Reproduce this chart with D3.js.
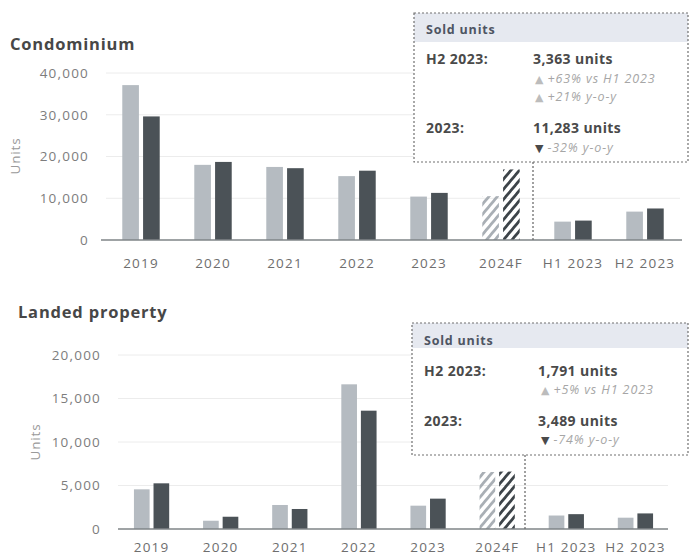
<!DOCTYPE html>
<html>
<head>
<meta charset="utf-8">
<script src="https://cdn.jsdelivr.net/npm/d3@7"></script>
<style>
  body { margin: 0; background: #fff; }
  svg { display: block; font-family: "Open Sans", "DejaVu Sans", sans-serif; }
</style>
</head>
<body>
<svg id="chart" width="690" height="556"></svg>
<script>
// ---- data ----
const categories = ["2019", "2020", "2021", "2022", "2023", "2024F", "H1 2023", "H2 2023"];
const forecastCategory = "2024F";

const condoLight = [37100, 18000, 17500, 15300, 10400, 10500, 4400, 6800];
const condoSold  = [29600, 18700, 17200, 16600, 11283, 16900, 4650, 7550];
const condoTicks = [0, 10000, 20000, 30000, 40000];

const landedLight = [4560, 950, 2760, 16630, 2680, 6550, 1550, 1300];
const landedSold  = [5250, 1410, 2300, 13600, 3489, 6600, 1706, 1791];
const landedTicks = [0, 5000, 10000, 15000, 20000];

const condoNotes = [
  { label: "H2 2023:", value: "3,363 units",
    notes: [{ sym: "▲", text: "+63% vs H1 2023" }, { sym: "▲", text: "+21% y-o-y" }] },
  { label: "2023:", value: "11,283 units",
    notes: [{ sym: "▼", text: "-32% y-o-y" }] }
];
const landedNotes = [
  { label: "H2 2023:", value: "1,791 units",
    notes: [{ sym: "▲", text: "+5% vs H1 2023" }] },
  { label: "2023:", value: "3,489 units",
    notes: [{ sym: "▼", text: "-74% y-o-y" }] }
];

// ---- styling ----
const LIGHT = "#b5bbc1";
const DARK = "#4b5257";
const svg = d3.select("#chart");

// diagonal hatching for the forecast bars
const defs = svg.append("defs");
function hatch(id, color) {
  const p = defs.append("pattern")
    .attr("id", id)
    .attr("patternUnits", "userSpaceOnUse")
    .attr("width", 6.5).attr("height", 6.5)
    .attr("patternTransform", "rotate(40)");
  p.append("rect").attr("x", 0).attr("y", 0).attr("width", 2.8).attr("height", 6.5).attr("fill", color);
}
hatch("hatchLight", "#a9afb5");
hatch("hatchDark", "#3d4449");

function drawPanel(cfg) {
  const g = svg.append("g");

  const y = d3.scaleLinear().domain([0, cfg.ticks[cfg.ticks.length - 1]]).range(cfg.yRange);
  const x0 = d3.scaleBand().domain(categories).range(cfg.xRange)
    .paddingInner(cfg.groupPad).paddingOuter(cfg.groupPad / 2);
  const x1 = d3.scaleBand().domain(["light", "sold"]).range([0, x0.bandwidth()]).paddingInner(0.2);

  // title
  g.append("text").attr("x", cfg.titleX).attr("y", cfg.titleY)
    .attr("font-size", 16.5).attr("font-weight", 700).attr("letter-spacing", 0.8)
    .attr("fill", "#474747")
    .text(cfg.title);

  // gridlines
  g.append("g").selectAll("line").data(cfg.ticks.filter(d => d > 0)).join("line")
    .attr("x1", cfg.gridX[0]).attr("x2", cfg.gridX[1])
    .attr("y1", d => y(d)).attr("y2", d => y(d))
    .attr("stroke", "#ececec").attr("stroke-width", 1);

  // y axis labels
  const yAxis = g.append("g").attr("transform", `translate(${cfg.tickX},0)`)
    .call(d3.axisLeft(y).tickValues(cfg.ticks).tickSize(0).tickPadding(0).tickFormat(d3.format(",")));
  yAxis.select(".domain").remove();
  yAxis.selectAll("text").attr("font-size", 13.5).attr("letter-spacing", 1.2).attr("fill", "#7d7d7d")
    .attr("font-family", "\"Open Sans\", sans-serif");

  // axis title
  g.append("text")
    .attr("transform", `translate(${cfg.unitsX},${cfg.unitsY}) rotate(-90)`)
    .attr("text-anchor", "middle").attr("dy", "0.35em")
    .attr("font-size", 13.5).attr("letter-spacing", 0.8).attr("fill", "#9a9a9a").text("Units");

  // bars
  const rows = categories.map((c, i) => ({ c, light: cfg.light[i], sold: cfg.sold[i] }));
  const groups = g.append("g").selectAll("g").data(rows).join("g")
    .attr("transform", d => `translate(${x0(d.c)},0)`);
  groups.selectAll("rect")
    .data(d => [{ k: "light", v: d.light, c: d.c }, { k: "sold", v: d.sold, c: d.c }])
    .join("rect")
    .attr("x", d => x1(d.k))
    .attr("width", x1.bandwidth())
    .attr("y", d => y(d.v))
    .attr("height", d => y(0) - y(d.v))
    .attr("fill", d => d.c === forecastCategory
      ? (d.k === "light" ? "url(#hatchLight)" : "url(#hatchDark)")
      : (d.k === "light" ? LIGHT : DARK));

  // baseline
  g.append("line").attr("x1", cfg.baseX[0]).attr("x2", cfg.baseX[1])
    .attr("y1", y(0)).attr("y2", y(0))
    .attr("stroke", "#7f8487").attr("stroke-width", 1.5);

  // x axis labels
  const xAxis = g.append("g").attr("transform", `translate(0,${cfg.labelY})`)
    .call(d3.axisBottom(x0).tickSize(0).tickPadding(0));
  xAxis.select(".domain").remove();
  xAxis.selectAll("text").attr("font-size", 13.5).attr("letter-spacing", 1.2).attr("fill", "#6e6e6e")
    .attr("font-family", "\"Open Sans\", sans-serif");

  // dotted connector from the callout down to the axis
  g.append("line").attr("x1", cfg.dividerX).attr("x2", cfg.dividerX)
    .attr("y1", cfg.box.y + cfg.box.h).attr("y2", y(0))
    .attr("stroke", "#6e6e6e").attr("stroke-width", 1.3).attr("stroke-dasharray", "2,2");

  // callout box
  const b = cfg.box;
  const box = g.append("g");
  box.append("rect").attr("x", b.x).attr("y", b.y).attr("width", b.w).attr("height", b.h)
    .attr("fill", "#fff");
  box.append("rect").attr("x", b.x).attr("y", b.y).attr("width", b.w).attr("height", b.headerH)
    .attr("fill", "#e6e9f0");
  box.append("rect").attr("x", b.x).attr("y", b.y).attr("width", b.w).attr("height", b.h)
    .attr("fill", "none").attr("stroke", "#707070").attr("stroke-width", 1.2)
    .attr("stroke-dasharray", "2,2");
  box.append("text").attr("x", b.x + 12).attr("y", b.y + b.headerBase)
    .attr("font-size", 12.5).attr("font-weight", 700).attr("letter-spacing", 0.8)
    .attr("fill", "#4e5563").text("Sold units");

  cfg.notes.forEach((row, i) => {
    const ry = b.y + b.rowBase[i];
    box.append("text").attr("x", b.x + 12).attr("y", ry)
      .attr("font-size", 14).attr("font-weight", 700).attr("letter-spacing", 0.5)
      .attr("fill", "#4a4a4a").text(row.label);
    box.append("text").attr("x", b.x + b.valueX).attr("y", ry)
      .attr("font-size", 14).attr("font-weight", 700).attr("letter-spacing", 0.4)
      .attr("fill", "#4a4a4a").text(row.value);
    row.notes.forEach((n, j) => {
      const ny = ry + b.noteStep * (j + 1);
      const t = box.append("text").attr("x", b.x + b.noteX).attr("y", ny)
        .attr("font-size", 12.5).attr("font-style", "italic").attr("letter-spacing", 0.9)
        .attr("fill", "#a6a6a6");
      t.append("tspan").attr("font-style", "normal").attr("font-size", 11)
        .attr("fill", n.sym === "▲" ? "#bcbcbc" : "#4a4a4a").text(n.sym);
      t.append("tspan").attr("dx", 3).text(n.text);
    });
  });
}

drawPanel({
  title: "Condominium", titleX: 10, titleY: 50,
  ticks: condoTicks, yRange: [240, 73],
  xRange: [105, 681], groupPad: 0.48,
  tickX: 89, unitsX: 15, unitsY: 156,
  gridX: [106, 680], baseX: [101, 682], labelY: 258,
  light: condoLight, sold: condoSold,
  dividerX: 533,
  box: { x: 414, y: 13, w: 274, h: 149, headerH: 29, headerBase: 21,
         rowBase: [51, 120], valueX: 119, noteX: 121, noteStep: 18.5 },
  notes: condoNotes
});

drawPanel({
  title: "Landed property", titleX: 18, titleY: 318,
  ticks: landedTicks, yRange: [529, 355],
  xRange: [117, 670], groupPad: 0.49,
  tickX: 101, unitsX: 35, unitsY: 442,
  gridX: [118, 668], baseX: [118, 668], labelY: 542,
  light: landedLight, sold: landedSold,
  dividerX: 525,
  box: { x: 412, y: 323, w: 276, h: 132, headerH: 25, headerBase: 22,
         rowBase: [53, 103], valueX: 126, noteX: 129, noteStep: 17.5 },
  notes: landedNotes
});
</script>
</body>
</html>
